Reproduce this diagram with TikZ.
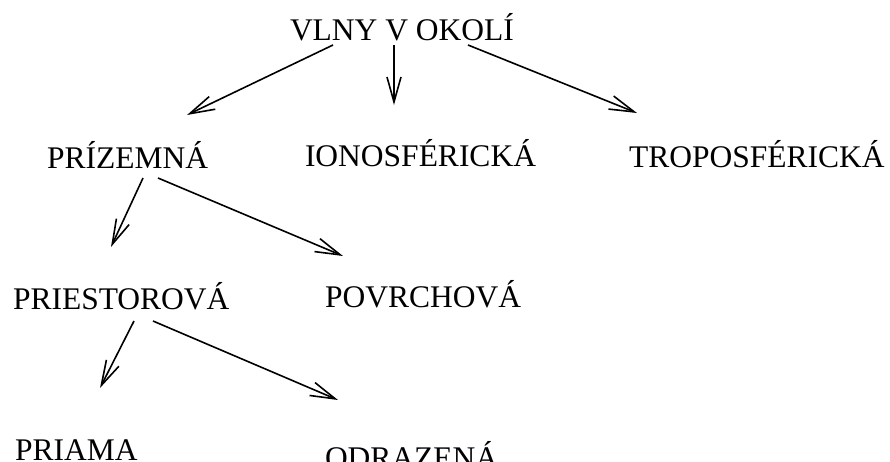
\documentclass[tikz,border=0pt]{standalone}
\usepackage{fontspec}
\setmainfont{Liberation Serif}
\usetikzlibrary{arrows.meta}

\tikzset{
  label/.style={anchor=base west, inner sep=0pt, outer sep=0pt,
    font=\fontsize{31.5}{38}\selectfont},
  link/.style={line width=1.6pt, -{Straight Barb[length=25pt, width=14pt, line width=1.6pt]}}
}

\begin{document}
\begin{tikzpicture}[x=1pt, y=-1pt]
  \useasboundingbox (0,0) rectangle (890,461);

  % labels of the tree
  \node[label] (vlny)  at (290,40)  {VLNY V OKOLÍ};
  \node[label] (priz)  at (47,168)  {PRÍZEMNÁ};
  \node[label] (iono)  at (305,166) {IONOSFÉRICKÁ};
  \node[label] (tropo) at (629,167) {TROPOSFÉRICKÁ};
  \node[label] (pries) at (13,309)  {PRIESTOROVÁ};
  \node[label] (povr)  at (325,307) {POVRCHOVÁ};
  \node[label] (priam) at (15,460)  {PRIAMA};
  \node[label] (odraz) at (325,468) {ODRAZENÁ};

  % start and end points of the arrows
  \coordinate (vlnyL) at (333,45);
  \coordinate (vlnyM) at (394,45);
  \coordinate (vlnyR) at (468,45);
  \coordinate (tipPriz)  at (187,115);
  \coordinate (tipIono)  at (394,105);
  \coordinate (tipTropo) at (637,113);

  \coordinate (prizL) at (143,178);
  \coordinate (prizR) at (158,178);
  \coordinate (tipPries) at (111,247);
  \coordinate (tipPovr)  at (343,256);

  \coordinate (priesL) at (134,321);
  \coordinate (priesR) at (153,321);
  \coordinate (tipPriam) at (100,388);
  \coordinate (tipOdraz) at (338,400);

  % arrows
  \draw[link] (vlnyL) -- (tipPriz);
  \draw[link] (vlnyM) -- (tipIono);
  \draw[link] (vlnyR) -- (tipTropo);
  \draw[link] (prizL) -- (tipPries);
  \draw[link] (prizR) -- (tipPovr);
  \draw[link] (priesL) -- (tipPriam);
  \draw[link] (priesR) -- (tipOdraz);
\end{tikzpicture}
\end{document}
